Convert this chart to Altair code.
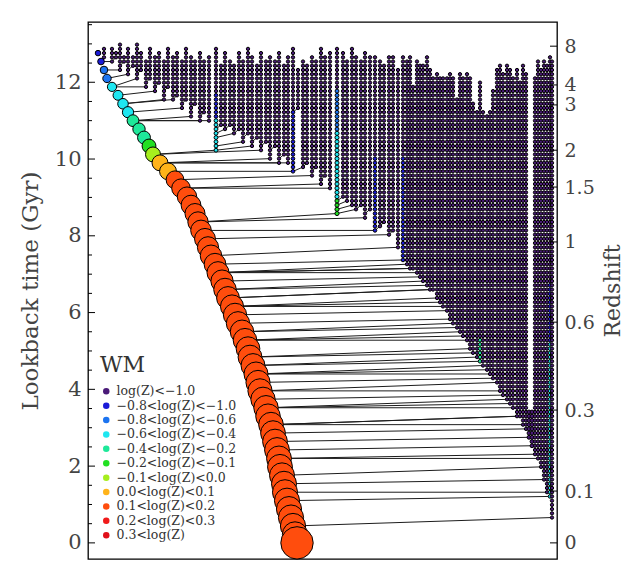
import math
import altair as alt
import pandas as pd

# ---------------- data ----------------
STEP = 0.11          # snapshot spacing (Gyr) of the tree
MAIN_STEP = 0.22     # spacing of plotted main-branch nodes

# main progenitor branch: x position at lookback times 0, 0.22, 0.44, ...
MAIN_X = [209, 207, 205, 203, 201, 199, 197, 196, 194, 192,
          191, 189, 187, 185, 183, 180, 178, 175, 172, 170,
          168, 165, 162, 160, 157, 154, 150, 147, 144, 140,
          137, 134, 130, 127, 123, 120, 117, 113, 110, 107,
          103, 99, 93, 87, 80, 72, 65, 61, 56, 51,
          45, 40, 35, 30, 24, 19, 16, 13, 10]
# metallicity class of the main branch: class applies below each break time
MAIN_BREAKS = [12.45, 11.95, 11.05, 10.55, 10.2, 10.0, 9.6]
MAIN_CLASSES = [1, 2, 3, 4, 5, 6, 7]
MAIN_LATE_CLASS = 8

# satellite branches (columns): position, first snapshot (top) and merging time
COL_X = [16, 24, 28, 32, 36, 40, 45, 49, 53, 58, 62, 67, 71, 76, 80, 85, 89, 94, 98,
         103, 107, 112, 116, 121, 128, 133, 137, 142, 146, 151, 155, 160, 164, 169,
         173, 178, 182, 187, 191, 196, 200, 205, 210, 215, 219, 224, 228, 233, 237,
         242, 249, 255, 259, 264, 268, 273, 277, 282, 287, 292, 296, 301, 305, 310,
         315, 319, 322, 325, 329, 332, 335, 339, 342, 345, 349, 352, 355, 359, 362,
         365, 369, 372, 375, 379, 382, 385, 389, 392, 395, 399, 402, 405, 409, 412,
         415, 419, 422, 425, 429, 432, 435, 438, 441, 444, 447, 450, 453, 456, 459,
         462, 464]
COL_TOP = [12.9, 12.95, 12.85, 13.05, 12.75, 12.9, 12.7, 13.05, 12.8, 12.6, 12.95, 12.7,
           12.85, 12.55, 12.9, 12.65, 12.8, 12.6, 12.95, 12.7, 12.55, 12.85, 12.6, 12.75,
           12.9, 12.5, 12.8, 12.6, 12.45, 12.85, 12.6, 12.95, 12.7, 12.5, 12.8, 12.55,
           12.7, 12.6, 12.85, 12.5, 12.65, 12.9, 12.4, 12.6, 12.45, 12.75, 12.55, 12.95,
           12.7, 12.85, 12.95, 12.8, 12.6, 12.9, 12.7, 12.55, 12.85, 12.75, 12.7, 12.6,
           12.45, 12.75, 12.65, 12.4, 12.7, 12.55, 12.7, 11.9, 12.6, 12.5, 12.45, 12.65,
           12.4, 12.2, 12.3, 12.15, 12.2, 12.1, 12.25, 12.15, 11.6, 12.3, 12.2, 12.25,
           12.1, 11.5, 11.3, 12.0, 11.3, 11.2, 11.3, 11.8, 12.4, 12.45, 12.3, 12.5,
           12.35, 12.2, 12.4, 12.0, 12.5, 12.3, 3.5, 3.45, 12.2, 12.55, 12.4, 12.6,
           12.5, 12.65, 12.55]
COL_END = [12.65, 12.45, 12.6, 12.3, 12.5, 12.15, 12.35, 12.0, 12.25, 11.85, 12.05, 11.7,
           11.95, 11.55, 11.8, 11.45, 11.65, 11.3, 11.5, 11.1, 11.35, 11.0, 11.2, 10.9,
           10.2, 10.8, 10.7, 10.85, 10.6, 10.75, 10.45, 10.6, 10.3, 10.5, 10.15, 10.35,
           10.0, 10.25, 9.9, 10.1, 9.8, 9.6, 11.3, 9.7, 9.9, 9.5, 9.7, 9.35, 9.55, 9.2,
           8.5, 9.0, 8.85, 8.8, 8.65, 8.8, 8.45, 8.6, 8.07, 8.25, 8.35, 7.95, 8.1, 7.7,
           7.37, 7.25, 7.15, 7.05, 6.95, 6.9, 6.8, 6.7, 6.6, 6.5, 6.35, 6.2, 6.1, 5.95,
           5.8, 5.7, 5.55, 5.45, 5.3, 5.2, 5.05, 4.95, 4.8, 4.7, 4.6, 4.45, 4.35, 4.2,
           4.1, 3.95, 3.8, 3.7, 3.55, 3.45, 3.3, 3.2, 3.05, 2.9, 2.75, 2.5, 2.3, 2.1,
           1.9, 1.6, 1.3, 1.2, 0.65]

# coloured (more enriched / more massive) stretches of some branches
SEG_X = [128, 128, 205, 249, 249, 249, 287, 315, 392, 441, 444, 462, 462]
SEG_TOP = [11.7, 11.0, 11.3, 11.8, 10.75, 8.95, 10.05, 10.05, 5.3, 3.5, 3.45, 6.8, 5.2]
SEG_END = [11.0, 10.2, 9.6, 10.75, 8.95, 8.5, 8.07, 7.37, 4.7, 2.75, 2.5, 5.2, 1.2]
SEG_CLASS = [1, 3, 1, 2, 3, 5, 1, 1, 4, 0, 0, 1, 3]
SEG_LEVEL = [1, 2, 1, 2, 3, 3, 1, 1, 1, 2, 2, 1, 1]

LEGEND_LABELS = ["log(Z)<\u22121.0", "\u22120.8<log(Z)<\u22121.0", "\u22120.8<log(Z)<\u22120.6",
                 "\u22120.6<log(Z)<\u22120.4", "\u22120.4<log(Z)<\u22120.2", "\u22120.2<log(Z)<\u22120.1",
                 "\u22120.1<log(Z)<0.0", "0.0<log(Z)<0.1", "0.1<log(Z)<0.2", "0.2<log(Z)<0.3",
                 "0.3<log(Z)"]
LEGEND_COLORS = ["#4a1a78", "#1a1ad8", "#1c74f0", "#1ee6f0", "#1ee89a", "#22e022",
                 "#a6ee1e", "#ffb31a", "#ff4d0d", "#f01a1a", "#e0101a"]

LEFT_MAJOR = [0, 2, 4, 6, 8, 10, 12]
LEFT_MINOR = [0.5, 1, 1.5, 2.5, 3, 3.5, 4.5, 5, 5.5, 6.5, 7, 7.5, 8.5, 9, 9.5,
              10.5, 11, 11.5, 12.5, 13, 13.5]
Z_LABELS = ["8", "4", "3", "2", "1.5", "1", "0.6", "0.3", "0.1", "0"]
Z_LOOKBACK = [12.94, 11.93, 11.41, 10.23, 9.27, 7.84, 5.75, 3.46, 1.35, 0.0]

T_DOMAIN = [-0.42, 13.57]
X_DOMAIN = [0, 469]

# ---------------- build tables ----------------
main_rows = []
for i, x in enumerate(MAIN_X):
    t = round(i * MAIN_STEP, 3)
    cls = MAIN_LATE_CLASS
    for b, c in zip(MAIN_BREAKS, MAIN_CLASSES):
        if t >= b:
            cls = c
            break
    main_rows.append({"x": x, "t": t, "label": LEGEND_LABELS[cls]})
main_df = pd.DataFrame(main_rows)

cols = []
for x, top, end in zip(COL_X, COL_TOP, COL_END):
    k0 = math.ceil(end / STEP - 1e-6)
    k1 = math.floor(top / STEP + 1e-6)
    cols.append((x, k0, k1))

node_rows = []
for x, k0, k1 in cols:
    for k in range(k0, k1 + 1):
        t = round(k * STEP, 3)
        cls, lvl = 0, 0
        for sx, st, se, sc, sl in zip(SEG_X, SEG_TOP, SEG_END, SEG_CLASS, SEG_LEVEL):
            if sx == x and se - 1e-6 <= t <= st + 1e-6:
                cls, lvl = sc, sl
        node_rows.append({"x": x, "t": t, "label": LEGEND_LABELS[cls], "lvl": lvl})
node_df = pd.DataFrame(node_rows)

line_rows = []
for i, (x, k0, k1) in enumerate(cols):
    te = k0 * STEP
    kt = k0 - 1
    target = None
    for j in range(i - 1, -1, -1):
        xj, k0j, k1j = cols[j]
        if xj < x and k0j <= kt <= k1j:
            target = (xj, kt * STEP)
            break
    if target is None:
        idx = max(0, min(len(MAIN_X) - 1, round((te - STEP) / MAIN_STEP)))
        target = (MAIN_X[idx], idx * MAIN_STEP)
    line_rows.append({"x1": x, "t1": te, "x2": target[0], "t2": target[1]})
line_df = pd.DataFrame(line_rows)

# ---------------- chart ----------------
FONT = "DejaVu Serif"
xs = alt.Scale(domain=X_DOMAIN, nice=False, zero=False)
ys = alt.Scale(domain=T_DOMAIN, nice=False, zero=False)

left_axis = alt.Axis(values=LEFT_MAJOR, ticks=False, domain=False, grid=False,
                     labelFont=FONT, labelFontSize=21, labelColor="#444", labelPadding=7,
                     title="Lookback time (Gyr)", titleFont=FONT, titleFontSize=23,
                     titleFontWeight="normal", titleColor="#444", titlePadding=12)

z_expr = "[" + ",".join("'%s'" % s for s in Z_LABELS) + "][indexof([" + \
    ",".join(str(v) for v in Z_LOOKBACK) + "], datum.value)]"
right_axis = alt.Axis(orient="right", values=Z_LOOKBACK, labelExpr=z_expr, ticks=False,
                      domain=False, grid=False, labelFont=FONT, labelFontSize=19,
                      labelColor="#444", labelPadding=7, labelOverlap=False,
                      labelBound=False, labelFlush=False,
                      title="Redshift", titleFont=FONT,
                      titleFontSize=22, titleFontWeight="normal", titleColor="#444",
                      titleAngle=270, titleBaseline="top", titlePadding=8)

color_enc = alt.Color("label:N",
                      scale=alt.Scale(domain=LEGEND_LABELS, range=LEGEND_COLORS),
                      legend=alt.Legend(title="WM", orient="none", legendX=12, legendY=333,
                                        titleFont=FONT, titleFontSize=22, titleFontWeight="normal",
                                        titleColor="#333", titlePadding=8,
                                        labelFont=FONT, labelFontSize=12.5, labelColor="#333",
                                        labelLimit=300, labelOffset=4,
                                        symbolType="circle", symbolSize=42, symbolStrokeWidth=0,
                                        rowPadding=1.4, padding=0))

lines = alt.Chart(line_df).mark_rule(color="#1c1c1c", strokeWidth=1).encode(
    x=alt.X("x1:Q", scale=xs, axis=None), x2="x2:Q",
    y=alt.Y("t1:Q", scale=ys, axis=left_axis), y2="t2:Q")

dots = alt.Chart(node_df).mark_circle(stroke="black", strokeWidth=1, opacity=1).encode(
    x=alt.X("x:Q", scale=xs, axis=None),
    y=alt.Y("t:Q", scale=ys, axis=left_axis),
    color=color_enc,
    size=alt.Size("lvl:O", scale=alt.Scale(domain=[0, 1, 2, 3], range=[11, 17, 32, 44]),
                  legend=None))

main = alt.Chart(main_df).mark_circle(stroke="black", strokeWidth=1, opacity=1).encode(
    x=alt.X("x:Q", scale=xs, axis=None),
    y=alt.Y("t:Q", scale=ys, axis=left_axis),
    color=color_enc,
    size=alt.Size("t:Q", scale=alt.Scale(domain=[0, 3, 6, 9, 10.5, 12.8],
                                         range=[640, 610, 540, 380, 170, 28]), legend=None),
    order=alt.Order("t:Q", sort="descending"))

final = alt.Chart(main_df).transform_filter("datum.t == 0").mark_circle(
    stroke="black", strokeWidth=1, opacity=1, size=1050).encode(
    x=alt.X("x:Q", scale=xs, axis=None),
    y=alt.Y("t:Q", scale=ys, axis=left_axis),
    color=color_enc)

lt_major = alt.Chart(pd.DataFrame({"v": LEFT_MAJOR})).mark_rule(color="black", strokeWidth=1).encode(
    y=alt.Y("v:Q", scale=ys, axis=left_axis), x=alt.value(0), x2=alt.value(7))
lt_minor = alt.Chart(pd.DataFrame({"v": LEFT_MINOR})).mark_rule(color="black", strokeWidth=1).encode(
    y=alt.Y("v:Q", scale=ys, axis=left_axis), x=alt.value(0), x2=alt.value(4))

left = alt.layer(lines, dots, main, final, lt_major, lt_minor).resolve_scale(size="independent")

rticks = alt.Chart(pd.DataFrame({"v": Z_LOOKBACK})).mark_rule(color="black", strokeWidth=1).encode(
    y=alt.Y("v:Q", scale=ys, axis=right_axis), x=alt.value(462), x2=alt.value(469))

chart = alt.layer(left, rticks).resolve_scale(y="independent").properties(
    width=469, height=537,
    padding={"left": 88, "top": 22, "right": 76, "bottom": 2},
    autosize=alt.AutoSizeParams(type="none"),
    background="white",
).configure_view(stroke="black", strokeWidth=1.3)

chart.save("out.html", embed_options={"renderer": "svg", "actions": False})
